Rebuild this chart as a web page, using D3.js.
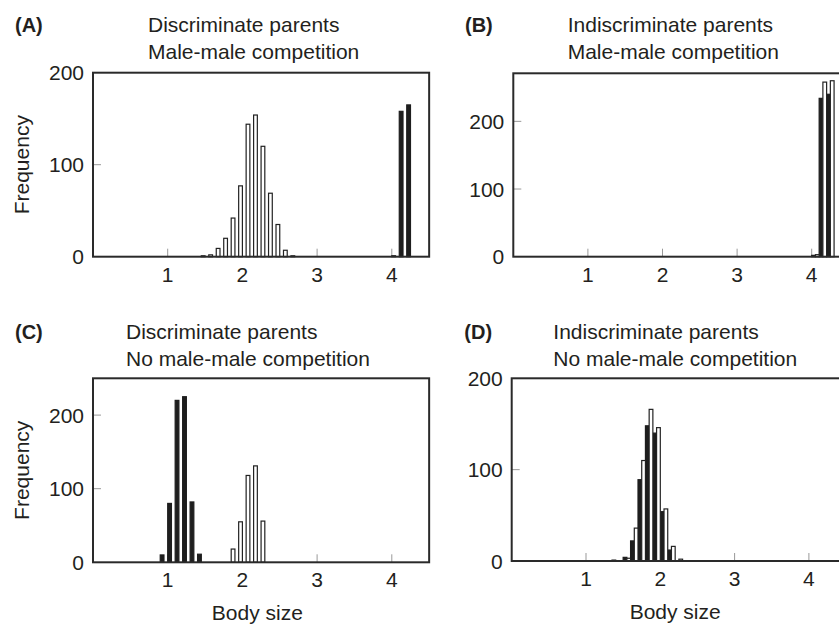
<!DOCTYPE html>
<meta charset="utf-8">
<script src="https://d3js.org/d3.v7.min.js"></script>
<style>
    body { margin: 0; background-color: white; }
    svg { display: block; font-family: "Liberation Sans", Arial, sans-serif; }
</style>
<body>
<div id="my_dataviz"></div>
<script>
    // ticks shared by all panels
    var xTicks = [1, 2, 3, 4];
    var yTicks = [0, 100, 200];

    // (A) discriminate parents, male-male competition
    var aFilledBins = [4.0, 4.1, 4.2];
    var aFilledCounts = [1, 158, 165];
    var aHollowBins = [1.4, 1.5, 1.6, 1.7, 1.8, 1.9, 2.0, 2.1, 2.2, 2.3, 2.4, 2.5, 2.6];
    var aHollowCounts = [1, 2, 9, 20, 42, 77, 144, 154, 120, 69, 35, 7, 1];

    // (B) indiscriminate parents, male-male competition
    var bFilledBins = [4.0, 4.1, 4.2];
    var bFilledCounts = [2, 234, 240];
    var bHollowBins = [4.0, 4.1, 4.2];
    var bHollowCounts = [3, 258, 260];

    // (C) discriminate parents, no male-male competition
    var cFilledBins = [0.9, 1.0, 1.1, 1.2, 1.3, 1.4];
    var cFilledCounts = [10, 80, 220, 225, 82, 11];
    var cHollowBins = [1.8, 1.9, 2.0, 2.1, 2.2];
    var cHollowCounts = [18, 55, 118, 131, 56];

    // (D) indiscriminate parents, no male-male competition
    var dFilledBins = [1.5, 1.6, 1.7, 1.8, 1.9, 2.0, 2.1];
    var dFilledCounts = [4, 22, 89, 148, 140, 54, 12];
    var dHollowBins = [1.3, 1.5, 1.6, 1.7, 1.8, 1.9, 2.0, 2.1, 2.2];
    var dHollowCounts = [1, 3, 36, 110, 166, 146, 57, 16, 2];

    var binWidth = 0.1;
    var ink = "#231f20";

    var svg = d3.select("#my_dataviz").append("svg")
        .attr("width", 839)
        .attr("height", 625);

    function drawPanel(p) {
        var x = d3.scaleLinear().domain([0, 4.5]).range([p.left, p.left + 4.5 * p.unit]);
        var y = d3.scaleLinear().domain([0, p.yMax]).range([p.bottom, p.top]);
        var g = svg.append("g");

        // gray inner tick marks
        g.selectAll(".xt").data(xTicks).enter().append("line")
            .attr("x1", d => x(d)).attr("x2", d => x(d))
            .attr("y1", p.bottom).attr("y2", p.bottom - 8)
            .attr("stroke", "#999").attr("stroke-width", 1);
        g.selectAll(".yt").data(yTicks.filter(d => d > 0 && y(d) > p.top + 2)).enter().append("line")
            .attr("x1", p.left).attr("x2", p.left + 8)
            .attr("y1", d => y(d)).attr("y2", d => y(d))
            .attr("stroke", "#999").attr("stroke-width", 1);

        // filled bars: left half of each bin
        g.selectAll(".fb").data(p.filledBins).enter().append("rect")
            .attr("x", d => x(d))
            .attr("width", d => x(d + binWidth / 2) - x(d))
            .attr("y", (d, i) => y(p.filledCounts[i]))
            .attr("height", (d, i) => y(0) - y(p.filledCounts[i]))
            .attr("fill", "#1e1e1e").attr("stroke", "#1e1e1e").attr("stroke-width", 1.2);

        // hollow bars: right half of each bin
        g.selectAll(".hb").data(p.hollowBins).enter().append("rect")
            .attr("x", d => x(d + binWidth / 2))
            .attr("width", d => x(d + binWidth) - x(d + binWidth / 2))
            .attr("y", (d, i) => y(p.hollowCounts[i]))
            .attr("height", (d, i) => y(0) - y(p.hollowCounts[i]))
            .attr("fill", "white").attr("stroke", "#222").attr("stroke-width", 1.2);

        // frame
        g.append("rect")
            .attr("x", p.left).attr("y", p.top)
            .attr("width", 4.5 * p.unit).attr("height", p.bottom - p.top)
            .attr("fill", "none").attr("stroke", "#2a2a2a").attr("stroke-width", 2);

        // tick labels
        g.selectAll(".xl").data(xTicks).enter().append("text")
            .attr("x", d => x(d)).attr("y", p.bottom + 25)
            .attr("text-anchor", "middle")
            .attr("font-size", 21).attr("fill", ink)
            .text(d => d);
        g.selectAll(".yl").data(yTicks).enter().append("text")
            .attr("x", p.left - 9).attr("y", d => y(d))
            .attr("dy", "0.36em")
            .attr("text-anchor", "end")
            .attr("font-size", 21).attr("fill", ink)
            .text(d => d);

        // panel letter and title
        g.append("text")
            .attr("x", p.letterX).attr("y", p.titleY)
            .attr("font-size", 20).attr("font-weight", "bold").attr("fill", ink)
            .text(p.letter);
        g.append("text")
            .attr("x", p.titleX).attr("y", p.titleY)
            .attr("font-size", 21).attr("fill", ink)
            .text(p.title1);
        g.append("text")
            .attr("x", p.titleX).attr("y", p.titleY + 27)
            .attr("font-size", 21).attr("fill", ink)
            .text(p.title2);

        if (p.yLabel) {
            g.append("text")
                .attr("transform", "translate(29," + ((p.top + p.bottom) / 2) + ") rotate(-90)")
                .attr("text-anchor", "middle")
                .attr("font-size", 21).attr("fill", ink)
                .text("Frequency");
        }
        if (p.xLabel) {
            g.append("text")
                .attr("x", x(2.2)).attr("y", p.bottom + 58)
                .attr("text-anchor", "middle")
                .attr("font-size", 21).attr("fill", ink)
                .text("Body size");
        }
    }

    drawPanel({ letter: "(A)", title1: "Discriminate parents", title2: "Male-male competition",
        left: 93, unit: 74.7, top: 72.7, bottom: 256.7, yMax: 200,
        letterX: 15, titleX: 148, titleY: 32, yLabel: true, xLabel: false,
        filledBins: aFilledBins, filledCounts: aFilledCounts, hollowBins: aHollowBins, hollowCounts: aHollowCounts });

    drawPanel({ letter: "(B)", title1: "Indiscriminate parents", title2: "Male-male competition",
        left: 513.3, unit: 74.6, top: 73.3, bottom: 256.7, yMax: 271,
        letterX: 465, titleX: 567.7, titleY: 32, yLabel: false, xLabel: false,
        filledBins: bFilledBins, filledCounts: bFilledCounts, hollowBins: bHollowBins, hollowCounts: bHollowCounts });

    drawPanel({ letter: "(C)", title1: "Discriminate parents", title2: "No male-male competition",
        left: 93, unit: 74.7, top: 378.3, bottom: 562.3, yMax: 250,
        letterX: 15, titleX: 126, titleY: 338.5, yLabel: true, xLabel: true,
        filledBins: cFilledBins, filledCounts: cFilledCounts, hollowBins: cHollowBins, hollowCounts: cHollowCounts });

    drawPanel({ letter: "(D)", title1: "Indiscriminate parents", title2: "No male-male competition",
        left: 511.7, unit: 74.3, top: 378.3, bottom: 561, yMax: 200,
        letterX: 464.3, titleX: 553.3, titleY: 338.5, yLabel: false, xLabel: true,
        filledBins: dFilledBins, filledCounts: dFilledCounts, hollowBins: dHollowBins, hollowCounts: dHollowCounts });
</script>
</body>
